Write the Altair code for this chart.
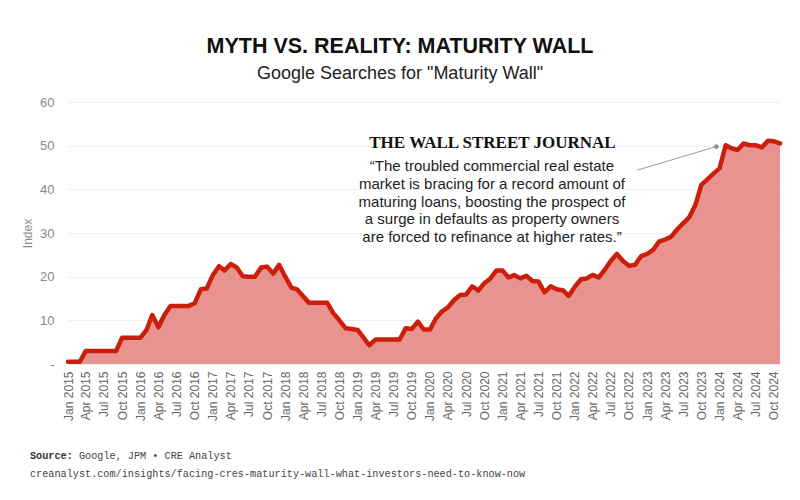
import altair as alt
import pandas as pd

# ---- data (monthly Google Trends index) ----
years = [2015, 2016, 2017, 2018, 2019, 2020, 2021, 2022, 2023, 2024]
values_2015 = [0.5, 0.5, 0.5, 3, 3, 3, 3, 3, 3, 6, 6, 6]
values_2016 = [6, 7.8, 11.2, 8.4, 11.2, 13.3, 13.3, 13.3, 13.3, 13.9, 17.1, 17.3]
values_2017 = [20.4, 22.4, 21.4, 22.9, 22.1, 20.1, 20, 20, 22.1, 22.3, 20.7, 22.7]
values_2018 = [20, 17.5, 17.1, 15.5, 14, 14, 14, 14, 11.6, 10, 8.2, 8]
values_2019 = [7.8, 6, 4.3, 5.6, 5.6, 5.6, 5.6, 5.6, 8.2, 8, 9.7, 7.9]
values_2020 = [7.9, 10.5, 12, 13, 14.6, 15.8, 15.9, 17.8, 16.8, 18.5, 19.6, 21.4]
values_2021 = [21.4, 19.8, 20.4, 19.6, 20.2, 19, 18.9, 16.4, 17.8, 17.1, 16.9, 15.6]
values_2022 = [17.7, 19.4, 19.6, 20.4, 19.8, 21.6, 23.6, 25.2, 23.6, 22.5, 22.7, 24.7]
values_2023 = [25.2, 26.2, 28, 28.5, 29.1, 30.8, 32.2, 33.6, 36.4, 41, 42.3, 43.6]
values_2024 = [44.8, 50.1, 49.4, 49, 50.5, 50.1, 50.1, 49.6, 51.1, 51, 50.5]
series = [values_2015, values_2016, values_2017, values_2018, values_2019,
          values_2020, values_2021, values_2022, values_2023, values_2024]

y_ticks = [0, 10, 20, 30, 40, 50, 60]

# annotation leader line (date, index) and quote
leader_dates = ["2022/11/12", "2023/12/16"]
leader_values = [44.4, 49.8]
wsj_name = "THE WALL STREET JOURNAL"
quote_lines = [
    "\u201cThe troubled commercial real estate",
    "market is bracing for a record amount of",
    "maturing loans, boosting the prospect of",
    "a surge in defaults as property owners",
    "are forced to refinance at higher rates.\u201d",
]
source_label = "Source:"
source_text = "Google, JPM \u2022 CRE Analyst"
source_url = "creanalyst.com/insights/facing-cres-maturity-wall-what-investors-need-to-know-now"

dates, vals = [], []
for y, vs in zip(years, series):
    for i, v in enumerate(vs):
        dates.append(f"{y}/{i + 1:02d}/01")
        vals.append(v)
df = pd.DataFrame({"date": dates, "value": vals})
lead = pd.DataFrame({"date": leader_dates, "value": leader_values})
one = pd.DataFrame({"k": [0]})

SANS = "Liberation Sans, Arial, Helvetica, sans-serif"
MONO = "Liberation Mono, DejaVu Sans Mono, monospace"

x_enc = alt.X(
    "date:T",
    scale=alt.Scale(domain=[alt.DateTime(year=2015, month=1, date=1),
                            alt.DateTime(year=2024, month=11, date=1)], nice=False),
    axis=alt.Axis(title=None, format="%b %Y", labelAngle=-90,
                  tickCount={"interval": "month", "step": 3},
                  labelOverlap=False, labelFlush=False, labelBound=False,
                  grid=False, domain=False, ticks=False,
                  labelColor="#666666", labelFontSize=12, labelFont=SANS,
                  labelPadding=7),
)
y_enc = alt.Y(
    "value:Q",
    scale=alt.Scale(domain=[0, 60], nice=False),
    axis=alt.Axis(title="Index", values=y_ticks,
                  labelExpr="datum.value == 0 ? '-' : datum.label",
                  grid=True, gridColor="#efefef", gridWidth=1,
                  domain=False, ticks=False,
                  labelColor="#8a8a8a", labelFontSize=13, labelFont=SANS,
                  labelPadding=14,
                  titleColor="#8a8a8a", titleFontWeight="normal",
                  titleFontSize=12, titleFont=SANS, titlePadding=5),
)

base = alt.Chart(df)
area = base.mark_area(color="#e8938f", opacity=1).encode(x=x_enc, y=y_enc)
line = base.mark_line(color="#cc1f0b", strokeWidth=4.5, strokeJoin="round",
                      strokeCap="round").encode(x="date:T", y="value:Q")

leader = alt.Chart(lead).mark_line(color="#9a9a9a", strokeWidth=1).encode(
    x="date:T", y="value:Q")
dot = alt.Chart(lead.tail(1)).mark_circle(color="#8f8f8f", size=22, opacity=1).encode(
    x="date:T", y="value:Q")

wsj = alt.Chart(one).mark_text(
    text=wsj_name, font="Liberation Serif, Times New Roman, serif",
    fontWeight="bold", fontSize=17, color="#111111", align="center",
    baseline="alphabetic").encode(x=alt.value(424.5), y=alt.value(46))

quote = alt.Chart(one).mark_text(
    text=quote_lines, font=SANS, fontSize=15, color="#222222", align="center",
    baseline="alphabetic", lineHeight=17.8).encode(x=alt.value(424), y=alt.value(69))

src1 = alt.Chart(one).mark_text(
    text=source_label, font=MONO, fontSize=10.2, fontWeight="bold", color="#333333",
    align="left", baseline="alphabetic").encode(x=alt.value(-38), y=alt.value(357))
src2 = alt.Chart(one).mark_text(
    text=source_text, font=MONO, fontSize=10.2, color="#444444",
    align="left", baseline="alphabetic").encode(x=alt.value(10.96), y=alt.value(357))
src3 = alt.Chart(one).mark_text(
    text=source_url, font=MONO, fontSize=10.2, color="#444444",
    align="left", baseline="alphabetic").encode(x=alt.value(-38), y=alt.value(375))

chart = alt.layer(area, line, leader, dot, wsj, quote, src1, src2, src3).properties(
    width=712, height=262,
    autosize=alt.AutoSizeParams(type="none"),
    padding={"left": 68, "top": 102, "right": 20, "bottom": 136},
    background="white",
    title=alt.TitleParams(
        text="MYTH VS. REALITY: MATURITY WALL",
        subtitle='Google Searches for "Maturity Wall"',
        font=SANS,
        fontSize=21.5, fontWeight="bold", color="#111111",
        subtitleFont=SANS, subtitleFontSize=18, subtitleColor="#222222",
        subtitlePadding=8, anchor="middle", frame="group", dx=-24, offset=13),
).configure_view(stroke=None)

chart.save("out.html", embed_options={"renderer": "svg", "actions": False})
